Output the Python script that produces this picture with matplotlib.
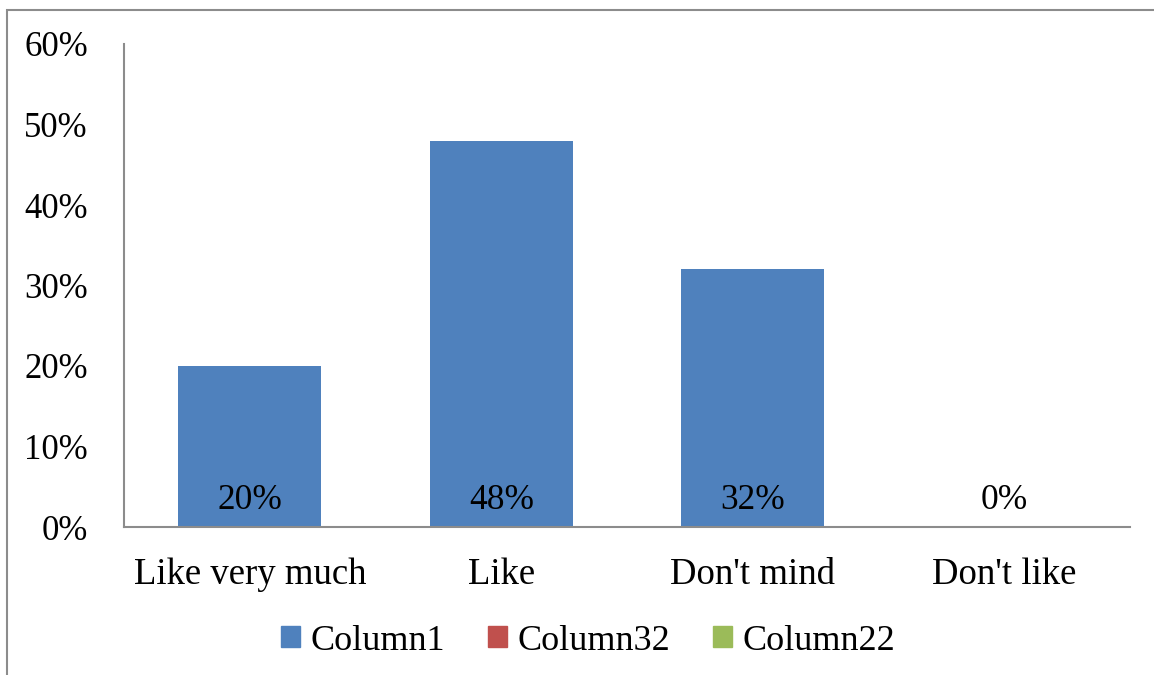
import matplotlib.pyplot as plt
from matplotlib.patches import Rectangle, Patch

# survey answers (percent of respondents)
categories = ["Like very much", "Like", "Don't mind", "Don't like"]
column1 = [20, 48, 32, 0]
series_names = ["Column1", "Column32", "Column22"]
series_colors = ["#4F81BD", "#C0504D", "#9BBB59"]
y_ticks = [0, 10, 20, 30, 40, 50, 60]

plt.rcParams["font.family"] = ["Liberation Serif", "DejaVu Serif"]
plt.rcParams["font.size"] = 26

fig = plt.figure(figsize=(11.54, 6.75), dpi=100)
W, H = 1154, 675
ax = fig.add_axes([124 / W, 1 - 527 / H, (1130 - 124) / W, (527 - 44) / H])

x = list(range(len(categories)))
ax.bar(x, column1, width=0.57, color=series_colors[0], zorder=2)

# value labels sit just above the baseline
for xi, v in zip(x, column1):
    ax.annotate(f"{v}%", (xi, 0), xytext=(0, 13), textcoords="offset points",
                ha="center", va="baseline", fontsize=25.5, color="black")

ax.set_xlim(-0.5, len(categories) - 0.5)
ax.set_ylim(0, 60)
ax.set_yticks(y_ticks)
ax.set_yticklabels([f"{t}%" for t in y_ticks], fontsize=25)
ax.set_xticks(x)
ax.set_xticklabels(categories, fontsize=26.5)
ax.tick_params(axis="x", length=0, pad=22)
ax.tick_params(axis="y", length=0, pad=26)
for side in ["top", "right"]:
    ax.spines[side].set_visible(False)
for side in ["left", "bottom"]:
    ax.spines[side].set_color("#8C8C8C")
    ax.spines[side].set_linewidth(1.5)

handles = [Patch(color=c) for c in series_colors]
fig.legend(handles, series_names, loc="center", bbox_to_anchor=(588 / W, 1 - 641 / H),
           ncol=3, frameon=False, handlelength=0.53, handleheight=0.53,
           handletextpad=0.28, columnspacing=1.2, fontsize=26)

# outer chart border
fig.patches.append(Rectangle((7 / W, -0.1), 1.2, 1 - 10 / H + 0.1, transform=fig.transFigure,
                             fill=False, edgecolor="#8C8C8C", linewidth=1.5))

fig.savefig("out.png", dpi=100)
